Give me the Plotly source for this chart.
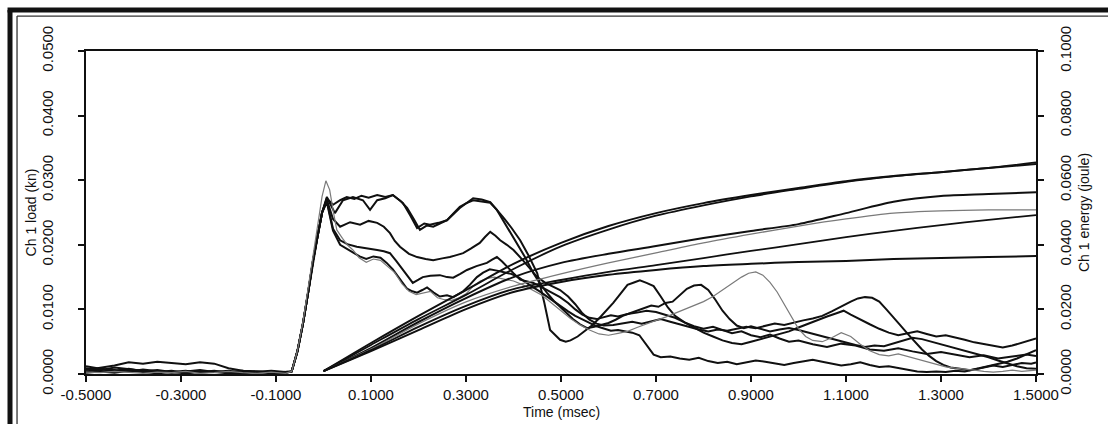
import plotly.graph_objects as go

# ---------------- data ----------------
x_tickvals = [-0.5, -0.3, -0.1, 0.1, 0.3, 0.5, 0.7, 0.9, 1.1, 1.3, 1.5]
x_ticktext = ["-0.5000", "-0.3000", "-0.1000", "0.1000", "0.3000", "0.5000",
              "0.7000", "0.9000", "1.1000", "1.3000", "1.5000"]
load_tickvals = [0.0, 0.01, 0.02, 0.03, 0.04, 0.05]
load_ticktext = ["0.0000", "0.0100", "0.0200", "0.0300", "0.0400", "0.0500"]
energy_tickvals = [0.0, 0.02, 0.04, 0.06, 0.08, 0.10]
energy_ticktext = ["0.0000", "0.0200", "0.0400", "0.0600", "0.0800", "0.1000"]

# common rising edge of the load pulse (time ms, load kN)
rise = [(-0.067, 0.0004), (-0.055, 0.0035), (-0.043, 0.0079), (-0.032, 0.0128),
        (-0.022, 0.0176), (-0.012, 0.0215), (-0.003, 0.0250)]

load1 = [(-0.5, 0.0004), (-0.47, 0.0007), (-0.44, 0.0005), (-0.41, 0.0008), (-0.38, 0.0004),
         (-0.35, 0.0006), (-0.32, 0.0003), (-0.29, 0.0005), (-0.26, 0.0002), (-0.23, 0.0004),
         (-0.2, 0.0003), (-0.17, 0.0005), (-0.14, 0.0002), (-0.11, 0.0004), (-0.08, 0.0002)] + rise + [
         (0.007, 0.0274), (0.024, 0.0249), (0.041, 0.0269), (0.062, 0.0274), (0.083, 0.0269),
         (0.098, 0.0254), (0.113, 0.0269), (0.13, 0.0272), (0.146, 0.0277), (0.167, 0.0265),
         (0.183, 0.0245), (0.197, 0.0226), (0.212, 0.0233), (0.224, 0.0231), (0.242, 0.0234),
         (0.26, 0.0238), (0.287, 0.0257), (0.315, 0.0272), (0.333, 0.0270), (0.351, 0.0266),
         (0.378, 0.0243), (0.396, 0.0226), (0.414, 0.0207), (0.432, 0.0183), (0.45, 0.0156),
         (0.465, 0.0110), (0.477, 0.0068), (0.498, 0.0053), (0.51, 0.0050), (0.52, 0.0052),
         (0.535, 0.0058), (0.55, 0.0066), (0.565, 0.0075), (0.58, 0.0086), (0.595, 0.0098),
         (0.61, 0.0110), (0.625, 0.0124), (0.64, 0.0138), (0.655, 0.0142), (0.666, 0.0145),
         (0.68, 0.0141), (0.695, 0.0136), (0.71, 0.0120), (0.725, 0.0103), (0.74, 0.0090),
         (0.76, 0.0080), (0.78, 0.0074), (0.80, 0.0070), (0.82, 0.0073), (0.84, 0.0068),
         (0.86, 0.0063), (0.88, 0.0066), (0.90, 0.0060), (0.92, 0.0057), (0.94, 0.0061),
         (0.96, 0.0055), (0.98, 0.0050), (1.00, 0.0052), (1.03, 0.0046), (1.06, 0.0042),
         (1.09, 0.0047), (1.12, 0.0044), (1.15, 0.0038), (1.18, 0.0036), (1.21, 0.0040),
         (1.24, 0.0035), (1.27, 0.0031), (1.30, 0.0034), (1.33, 0.0030), (1.36, 0.0026),
         (1.39, 0.0029), (1.42, 0.0024), (1.45, 0.0027), (1.48, 0.0030), (1.50, 0.0028)]

load2 = [(-0.5, 0.0009), (-0.47, 0.0006), (-0.44, 0.0010), (-0.41, 0.0007), (-0.38, 0.0005),
         (-0.35, 0.0003), (-0.32, 0.0005), (-0.29, 0.0002), (-0.26, 0.0004), (-0.23, 0.0003),
         (-0.2, 0.0001), (-0.17, 0.0003), (-0.14, 0.0004), (-0.11, 0.0002), (-0.08, 0.0003)] + rise + [
         (0.007, 0.0272), (0.02, 0.0262), (0.035, 0.0269), (0.049, 0.0274), (0.065, 0.0271),
         (0.08, 0.0276), (0.095, 0.0273), (0.113, 0.0277), (0.13, 0.0274), (0.146, 0.0277),
         (0.162, 0.0268), (0.176, 0.0257), (0.19, 0.0240), (0.203, 0.0223), (0.218, 0.0230),
         (0.231, 0.0228), (0.245, 0.0233), (0.26, 0.0238), (0.274, 0.0249), (0.287, 0.0259),
         (0.30, 0.0264), (0.315, 0.0269), (0.333, 0.0267), (0.351, 0.0265), (0.365, 0.0254),
         (0.378, 0.0238), (0.393, 0.0221), (0.408, 0.0203), (0.425, 0.0180), (0.442, 0.0156),
         (0.456, 0.0140), (0.471, 0.0125), (0.485, 0.0113), (0.498, 0.0104), (0.51, 0.0095),
         (0.525, 0.0085), (0.54, 0.0077), (0.555, 0.0071), (0.57, 0.0073), (0.585, 0.0076),
         (0.60, 0.0079), (0.615, 0.0084), (0.63, 0.0090), (0.645, 0.0094), (0.66, 0.0098),
         (0.675, 0.0102), (0.69, 0.0106), (0.705, 0.0104), (0.72, 0.0110), (0.735, 0.0112),
         (0.75, 0.0122), (0.765, 0.0132), (0.78, 0.0137), (0.795, 0.0138), (0.81, 0.0130),
         (0.825, 0.0115), (0.84, 0.0098), (0.855, 0.0085), (0.87, 0.0075), (0.885, 0.0071),
         (0.90, 0.0074), (0.92, 0.0070), (0.94, 0.0066), (0.96, 0.0069), (0.98, 0.0071),
         (1.00, 0.0068), (1.02, 0.0064), (1.04, 0.0060), (1.06, 0.0056), (1.08, 0.0052),
         (1.10, 0.0048), (1.12, 0.0045), (1.14, 0.0042), (1.16, 0.0044), (1.18, 0.0043),
         (1.20, 0.0047), (1.22, 0.0052), (1.24, 0.0056), (1.26, 0.0054), (1.28, 0.0050),
         (1.30, 0.0047), (1.32, 0.0043), (1.34, 0.0039), (1.36, 0.0034), (1.38, 0.0030),
         (1.40, 0.0026), (1.42, 0.0021), (1.44, 0.0016), (1.46, 0.0012), (1.48, 0.0009),
         (1.50, 0.0008)]

load3 = [(-0.5, 0.0006), (-0.47, 0.0009), (-0.44, 0.0013), (-0.41, 0.0018), (-0.38, 0.0016),
         (-0.35, 0.0019), (-0.32, 0.0017), (-0.29, 0.0015), (-0.26, 0.0018), (-0.23, 0.0016),
         (-0.2, 0.0009), (-0.17, 0.0005), (-0.14, 0.0004), (-0.11, 0.0003), (-0.08, 0.0002)] + rise + [
         (0.007, 0.0270), (0.02, 0.0240), (0.035, 0.0228), (0.056, 0.0235), (0.077, 0.0231),
         (0.095, 0.0237), (0.113, 0.0234), (0.127, 0.0228), (0.14, 0.0218), (0.15, 0.0206),
         (0.161, 0.0197), (0.18, 0.0186), (0.197, 0.0181), (0.215, 0.0178), (0.231, 0.0176),
         (0.25, 0.0179), (0.266, 0.0181), (0.28, 0.0184), (0.294, 0.0187), (0.31, 0.0194),
         (0.329, 0.0203), (0.34, 0.0212), (0.351, 0.0220), (0.362, 0.0214), (0.372, 0.0207),
         (0.386, 0.0200), (0.40, 0.0192), (0.42, 0.0176), (0.435, 0.0163), (0.45, 0.0150),
         (0.467, 0.0141), (0.484, 0.0135), (0.498, 0.0130), (0.515, 0.0120), (0.53, 0.0108),
         (0.545, 0.0094), (0.56, 0.0084), (0.575, 0.0078), (0.59, 0.0075), (0.61, 0.0076),
         (0.63, 0.0079), (0.65, 0.0081), (0.67, 0.0078), (0.69, 0.0082), (0.71, 0.0085),
         (0.73, 0.0081), (0.75, 0.0077), (0.77, 0.0072), (0.79, 0.0069), (0.81, 0.0066),
         (0.83, 0.0069), (0.85, 0.0067), (0.87, 0.0070), (0.89, 0.0073), (0.91, 0.0071),
         (0.93, 0.0075), (0.95, 0.0078), (0.97, 0.0076), (0.99, 0.0080), (1.01, 0.0083),
         (1.03, 0.0086), (1.05, 0.0090), (1.07, 0.0097), (1.09, 0.0105), (1.11, 0.0112),
         (1.125, 0.0117), (1.14, 0.0119), (1.155, 0.0118), (1.17, 0.0112), (1.185, 0.0100),
         (1.20, 0.0088), (1.215, 0.0075), (1.23, 0.0062), (1.245, 0.0050), (1.26, 0.0038),
         (1.275, 0.0028), (1.29, 0.0020), (1.305, 0.0014), (1.32, 0.0010), (1.34, 0.0008),
         (1.36, 0.0006), (1.38, 0.0009), (1.40, 0.0012), (1.42, 0.0016), (1.44, 0.0019),
         (1.46, 0.0024), (1.48, 0.0030), (1.50, 0.0037)]

load4 = [(-0.5, 0.0012), (-0.47, 0.0008), (-0.44, 0.0006), (-0.41, 0.0004), (-0.38, 0.0007),
         (-0.35, 0.0004), (-0.32, 0.0002), (-0.29, 0.0004), (-0.26, 0.0006), (-0.23, 0.0003),
         (-0.2, 0.0005), (-0.17, 0.0002), (-0.14, 0.0003), (-0.11, 0.0005), (-0.08, 0.0003)] + rise + [
         (0.007, 0.0268), (0.02, 0.0225), (0.035, 0.0207), (0.05, 0.0201), (0.07, 0.0197),
         (0.09, 0.0195), (0.113, 0.0192), (0.127, 0.0190), (0.14, 0.0187), (0.153, 0.0175),
         (0.167, 0.0161), (0.178, 0.0150), (0.188, 0.0141), (0.2, 0.0146), (0.209, 0.0150),
         (0.225, 0.0152), (0.245, 0.0153), (0.26, 0.0150), (0.273, 0.0149), (0.288, 0.0155),
         (0.302, 0.0161), (0.322, 0.0167), (0.344, 0.0172), (0.355, 0.0177), (0.365, 0.0181),
         (0.376, 0.0174), (0.386, 0.0166), (0.40, 0.0156), (0.414, 0.0146), (0.428, 0.0143),
         (0.442, 0.0141), (0.463, 0.0133), (0.484, 0.0125), (0.498, 0.0119), (0.515, 0.0110),
         (0.53, 0.0100), (0.545, 0.0092), (0.56, 0.0087), (0.575, 0.0085), (0.59, 0.0088),
         (0.605, 0.0091), (0.62, 0.0089), (0.64, 0.0093), (0.66, 0.0095), (0.68, 0.0098),
         (0.70, 0.0096), (0.72, 0.0092), (0.74, 0.0087), (0.76, 0.0080), (0.78, 0.0072),
         (0.80, 0.0064), (0.82, 0.0058), (0.84, 0.0052), (0.86, 0.0048), (0.88, 0.0046),
         (0.90, 0.0050), (0.92, 0.0054), (0.94, 0.0057), (0.96, 0.0061), (0.98, 0.0066),
         (1.00, 0.0072), (1.02, 0.0078), (1.04, 0.0083), (1.06, 0.0089), (1.08, 0.0094),
         (1.095, 0.0098), (1.11, 0.0092), (1.13, 0.0084), (1.15, 0.0077), (1.17, 0.0070),
         (1.19, 0.0064), (1.21, 0.0060), (1.23, 0.0063), (1.25, 0.0066), (1.27, 0.0062),
         (1.29, 0.0058), (1.31, 0.0060), (1.33, 0.0057), (1.35, 0.0053), (1.37, 0.0049),
         (1.39, 0.0046), (1.41, 0.0043), (1.43, 0.0041), (1.45, 0.0044), (1.47, 0.0048),
         (1.49, 0.0052), (1.50, 0.0055)]

load5 = [(-0.5, 0.0002), (-0.47, 0.0004), (-0.44, 0.0002), (-0.41, 0.0005), (-0.38, 0.0003),
         (-0.35, 0.0001), (-0.32, 0.0003), (-0.29, 0.0001), (-0.26, 0.0003), (-0.23, 0.0005),
         (-0.2, 0.0002), (-0.17, 0.0001), (-0.14, 0.0003), (-0.11, 0.0001), (-0.08, 0.0002)] + rise + [
         (0.007, 0.0266), (0.02, 0.0222), (0.035, 0.0200), (0.048, 0.0194), (0.062, 0.0188),
         (0.076, 0.0182), (0.09, 0.0178), (0.105, 0.0182), (0.12, 0.0180), (0.133, 0.0172),
         (0.146, 0.0162), (0.16, 0.0148), (0.176, 0.0132), (0.187, 0.0128), (0.197, 0.0126),
         (0.208, 0.0130), (0.218, 0.0134), (0.232, 0.0126), (0.245, 0.0120), (0.26, 0.0122),
         (0.273, 0.0119), (0.285, 0.0124), (0.294, 0.0128), (0.308, 0.0138), (0.323, 0.0150),
         (0.336, 0.0157), (0.35, 0.0162), (0.365, 0.0160), (0.38, 0.0158), (0.395, 0.0155),
         (0.41, 0.0150), (0.425, 0.0142), (0.44, 0.0135), (0.455, 0.0128), (0.47, 0.0120),
         (0.485, 0.0112), (0.498, 0.0105), (0.515, 0.0097), (0.53, 0.0090), (0.545, 0.0084),
         (0.56, 0.0079), (0.575, 0.0074), (0.59, 0.0070), (0.605, 0.0067), (0.62, 0.0068),
         (0.635, 0.0066), (0.65, 0.0064), (0.665, 0.0060), (0.68, 0.0045), (0.695, 0.0030),
         (0.71, 0.0026), (0.73, 0.0027), (0.75, 0.0024), (0.77, 0.0022), (0.79, 0.0025),
         (0.81, 0.0020), (0.83, 0.0017), (0.85, 0.0019), (0.87, 0.0015), (0.89, 0.0018),
         (0.91, 0.0021), (0.93, 0.0019), (0.95, 0.0016), (0.97, 0.0014), (0.99, 0.0017),
         (1.01, 0.0020), (1.03, 0.0022), (1.05, 0.0019), (1.07, 0.0016), (1.09, 0.0013),
         (1.11, 0.0015), (1.13, 0.0018), (1.15, 0.0014), (1.17, 0.0011), (1.19, 0.0012),
         (1.21, 0.0009), (1.23, 0.0006), (1.25, 0.0004), (1.27, 0.0003), (1.29, 0.0004),
         (1.31, 0.0003), (1.33, 0.0005), (1.35, 0.0004), (1.37, 0.0007), (1.39, 0.0010),
         (1.41, 0.0013), (1.43, 0.0011), (1.45, 0.0014), (1.47, 0.0017), (1.49, 0.0016),
         (1.50, 0.0018)]

# grey trace with the highest first peak
load6 = [(-0.5, 0.0003), (-0.47, 0.0002), (-0.44, 0.0004), (-0.41, 0.0002), (-0.38, 0.0001),
         (-0.35, 0.0003), (-0.32, 0.0002), (-0.29, 0.0004), (-0.26, 0.0001), (-0.23, 0.0002),
         (-0.2, 0.0004), (-0.17, 0.0002), (-0.14, 0.0001), (-0.11, 0.0003), (-0.08, 0.0001),
         (-0.067, 0.0004), (-0.055, 0.0036), (-0.043, 0.0082), (-0.032, 0.0133), (-0.022, 0.0184),
         (-0.012, 0.0228), (-0.003, 0.0275), (0.005, 0.0299), (0.013, 0.0285), (0.021, 0.0250),
         (0.028, 0.0223), (0.04, 0.0210), (0.05, 0.0200), (0.062, 0.0192), (0.075, 0.0180),
         (0.09, 0.0173), (0.105, 0.0178), (0.12, 0.0176), (0.135, 0.0167), (0.15, 0.0157),
         (0.165, 0.0140), (0.18, 0.0128), (0.195, 0.0123), (0.21, 0.0126), (0.225, 0.0128),
         (0.24, 0.0118), (0.255, 0.0115), (0.27, 0.0114), (0.285, 0.0118), (0.30, 0.0124),
         (0.315, 0.0136), (0.33, 0.0144), (0.345, 0.0148), (0.36, 0.0150), (0.38, 0.0147),
         (0.40, 0.0144), (0.42, 0.0138), (0.44, 0.0130), (0.46, 0.0122), (0.48, 0.0110),
         (0.50, 0.0098), (0.52, 0.0086), (0.54, 0.0076), (0.56, 0.0068), (0.58, 0.0062),
         (0.60, 0.0060), (0.62, 0.0063), (0.64, 0.0066), (0.66, 0.0072), (0.68, 0.0078),
         (0.70, 0.0083), (0.72, 0.0088), (0.74, 0.0094), (0.76, 0.0100), (0.78, 0.0106),
         (0.80, 0.0112), (0.82, 0.0120), (0.84, 0.0130), (0.86, 0.0140), (0.88, 0.0150),
         (0.895, 0.0156), (0.91, 0.0158), (0.925, 0.0153), (0.94, 0.0142), (0.955, 0.0127),
         (0.97, 0.0108), (0.985, 0.0088), (1.00, 0.0070), (1.015, 0.0058), (1.03, 0.0052),
         (1.05, 0.0050), (1.07, 0.0056), (1.09, 0.0064), (1.11, 0.0058), (1.13, 0.0046),
         (1.15, 0.0036), (1.17, 0.0030), (1.19, 0.0028), (1.21, 0.0031), (1.23, 0.0027),
         (1.25, 0.0022), (1.27, 0.0018), (1.29, 0.0014), (1.31, 0.0011), (1.33, 0.0009),
         (1.35, 0.0008), (1.37, 0.0006), (1.39, 0.0004), (1.41, 0.0003), (1.43, 0.0004),
         (1.45, 0.0006), (1.47, 0.0004), (1.49, 0.0005), (1.50, 0.0006)]

# energy curves (joule) sampled every 0.1 ms from 0.0 to 1.5 ms
energy_t = [0.0, 0.1, 0.2, 0.3, 0.4, 0.5, 0.6, 0.7, 0.8, 0.9, 1.0, 1.1, 1.2, 1.3, 1.4, 1.5]
energy1 = [0.0009, 0.0096, 0.0180, 0.0260, 0.0341, 0.0406, 0.0458, 0.0498, 0.0529, 0.0554,
           0.0576, 0.0597, 0.0613, 0.0625, 0.0638, 0.0650]
energy2 = [0.0009, 0.0090, 0.0170, 0.0245, 0.0325, 0.0395, 0.0447, 0.0490, 0.0522, 0.0550,
           0.0573, 0.0595, 0.0612, 0.0625, 0.0638, 0.0655]
energy3 = [0.0009, 0.0080, 0.0161, 0.0235, 0.0300, 0.0344, 0.0372, 0.0396, 0.0421, 0.0443,
           0.0464, 0.0498, 0.0533, 0.0551, 0.0557, 0.0563]
energy4 = [0.0009, 0.0077, 0.0155, 0.0223, 0.0272, 0.0310, 0.0344, 0.0375, 0.0406, 0.0433,
           0.0458, 0.0480, 0.0498, 0.0505, 0.0508, 0.0508]
energy5 = [0.0009, 0.0074, 0.0146, 0.0211, 0.0263, 0.0291, 0.0316, 0.0337, 0.0359, 0.0381,
           0.0402, 0.0424, 0.0443, 0.0461, 0.0477, 0.0492]
energy6 = [0.0009, 0.0071, 0.0136, 0.0201, 0.0254, 0.0285, 0.0307, 0.0322, 0.0334, 0.0341,
           0.0347, 0.0350, 0.0356, 0.0359, 0.0362, 0.0365]

# ---------------- figure ----------------
INK = "#101010"
GREY = "#7a7a7a"
FONT = "Liberation Sans, Arial, sans-serif"

fig = go.Figure()

load_series = [(load1, INK, 2.0), (load2, INK, 2.0), (load3, INK, 2.0),
               (load4, INK, 2.0), (load5, INK, 2.0), (load6, GREY, 1.2)]
for pts, col, w in load_series:
    fig.add_trace(go.Scatter(x=[p[0] for p in pts], y=[p[1] for p in pts], mode="lines",
                             line=dict(color=col, width=w), yaxis="y", showlegend=False,
                             hoverinfo="skip"))

energy_series = [(energy1, INK, 2.0), (energy2, INK, 1.8), (energy3, INK, 2.0),
                 (energy4, GREY, 1.3), (energy5, INK, 1.8), (energy6, INK, 2.0)]
for vals, col, w in energy_series:
    fig.add_trace(go.Scatter(x=energy_t, y=vals, mode="lines",
                             line=dict(color=col, width=w, shape="spline", smoothing=0.8),
                             yaxis="y2", showlegend=False, hoverinfo="skip"))

axis_common = dict(showgrid=False, zeroline=False, showline=True, linecolor=INK,
                   linewidth=2, ticks="outside", ticklen=6, tickwidth=1.5, tickcolor=INK,
                   tickfont=dict(family=FONT, size=15, color=INK))

frame = dict(color="#111111", width=5)
frame_thin = dict(color="#333333", width=1.3)

fig.update_layout(
    width=1108, height=424,
    margin=dict(l=86, r=72, t=51, b=50),
    paper_bgcolor="white", plot_bgcolor="white",
    xaxis=dict(range=[-0.5, 1.5], tickmode="array", tickvals=x_tickvals, ticktext=x_ticktext,
               mirror=True, ticklabelstandoff=0, **axis_common),
    yaxis=dict(range=[0, 0.05], tickmode="array", tickvals=load_tickvals,
               ticktext=load_ticktext, tickangle=-90, ticklabelstandoff=19, **axis_common),
    yaxis2=dict(range=[0, 0.1], tickmode="array", tickvals=energy_tickvals,
                ticktext=energy_ticktext, tickangle=-90, overlaying="y", side="right",
                ticklabelstandoff=9, **axis_common),
    annotations=[
        dict(text="Time (msec)", xref="paper", yref="paper", x=0.5, y=-0.118,
             showarrow=False, font=dict(family=FONT, size=14, color=INK),
             xanchor="center", yanchor="middle"),
        dict(text="Ch 1 load (kn)", xref="paper", yref="paper", x=-0.058, y=0.5,
             textangle=-90, showarrow=False, font=dict(family=FONT, size=14, color=INK),
             xanchor="center", yanchor="middle"),
        dict(text="Ch 1 energy (joule)", xref="paper", yref="paper", x=1.05, y=0.5,
             textangle=-90, showarrow=False, font=dict(family=FONT, size=14, color=INK),
             xanchor="center", yanchor="middle"),
    ],
    shapes=[
        dict(type="line", xref="paper", yref="paper", x0=-0.0826, x1=1.08, y0=1.127, y1=1.127,
             line=frame),
        dict(type="line", xref="paper", yref="paper", x0=-0.0800, x1=-0.0800, y0=1.127, y1=-0.16,
             line=frame),
        dict(type="line", xref="paper", yref="paper", x0=-0.0726, x1=1.08, y0=1.108, y1=1.108,
             line=frame_thin),
        dict(type="line", xref="paper", yref="paper", x0=-0.0726, x1=-0.0726, y0=1.108, y1=-0.16,
             line=frame_thin),
    ],
)

fig.write_html("out.html")
